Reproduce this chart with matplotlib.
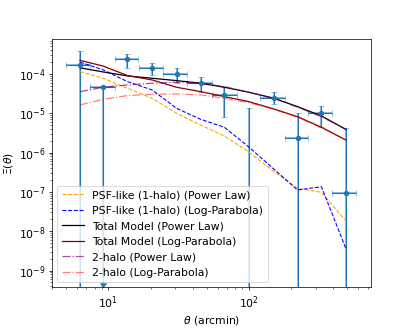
import matplotlib
matplotlib.use("Agg")
import matplotlib.pyplot as plt
import numpy as np

# ── data ──────────────────────────────────────────────────────────────────
theta = [6.3, 9.2, 13.7, 20.5, 30.6, 45.4, 67.1, 100.0, 150.7, 222.0, 328.6, 489.5]
theta_lo = [4.98, 7.41, 11.2, 16.5, 24.6, 36.4, 54.3, 100.0, 119.7, 180.0, 264.0, 393.0]
theta_hi = [7.41, 11.2, 16.3, 24.6, 36.4, 54.3, 81.8, 100.0, 180.2, 264.0, 393.0, 582.0]

xi = [1.69e-4, 4.75e-5, 2.37e-4, 1.40e-4, 1.00e-4, 5.8e-5, 2.93e-5, -1.0e-5,
      2.5e-5, 2.39e-6, 1.035e-5, 9.55e-8]
xi_up = [3.92e-4, 4.75e-5, 3.23e-4, 1.94e-4, 1.40e-4, 8.5e-5, 4.75e-5, 1.34e-5,
         3.55e-5, 1.0e-5, 1.53e-5, 4.3e-6]
xi_low = [-1e-4, 4.9e-10, 1.40e-4, 9.4e-5, 6.0e-5, 3.55e-5, 8.2e-6, -1e-4,
          1.73e-5, -1e-5, 4.4e-6, -1e-6]
upper_limit = [False, True, False, False, False, False, False, False,
               False, False, False, False]

# model curves, log10 values at theta
total_pl = [-3.845, -3.95, -4.051, -4.110, -4.170, -4.237, -4.339, -4.467, -4.619, -4.831, -5.069, -5.408]
total_lp = [-3.655, -3.80, -4.042, -4.153, -4.339, -4.450, -4.577, -4.704, -4.891, -5.086, -5.357, -5.679]
twoh_pl = [-4.450, -4.339, -4.280, -4.237, -4.212, -4.237, -4.322, -4.467, -4.619, -4.848, -5.086, -5.408]
twoh_lp = [-4.789, -4.645, -4.551, -4.517, -4.509, -4.534, -4.619, -4.729, -4.899, -5.103, -5.366, -5.679]
psf_pl = [-3.941, -4.110, -4.365, -4.619, -5.001, -5.298, -5.578, -5.985, -6.48, -6.908, -7.010, -7.733]
psf_lp = [-3.70, -3.898, -4.195, -4.407, -4.874, -5.154, -5.357, -5.858, -6.42, -6.952, -6.868, -8.435]

plt.rcParams["font.size"] = 12.2

fig = plt.figure(figsize=(6.4, 5.12), dpi=64.5)
ax = fig.add_axes([0.126, 0.129, 0.772, 0.751])

t = np.array(theta)
y = np.array(xi)
xerr = [t - np.array(theta_lo), np.array(theta_hi) - t]
yerr = [y - np.array(xi_low), np.array(xi_up) - y]

ax.errorbar(t, y, xerr=xerr, yerr=yerr, fmt="none", ecolor="C0",
            elinewidth=2.2, capsize=3.5, alpha=0.5)
ax.errorbar(t, y, xerr=xerr, yerr=yerr, uplims=upper_limit, fmt="o",
            color="C0", ms=5, elinewidth=1.2)

ax.plot(t, 10**np.array(psf_pl), "--", color="orange", lw=1.2, label="PSF-like (1-halo) (Power Law)")
ax.plot(t, 10**np.array(psf_lp), "--", color="blue", lw=1.2, label="PSF-like (1-halo) (Log-Parabola)")
ax.plot(t, 10**np.array(total_pl), "-", color="black", lw=1.4, label="Total Model (Power Law)")
ax.plot(t, 10**np.array(total_lp), "-", color="darkred", lw=1.4, label="Total Model (Log-Parabola)")
ax.plot(t, 10**np.array(twoh_pl), "-.", color="purple", alpha=0.7, lw=1.4, label="2-halo (Power Law)")
ax.plot(t, 10**np.array(twoh_lp), "-.", color="red", alpha=0.5, lw=1.4, label="2-halo (Log-Parabola)")

ax.set_xscale("log")
ax.set_yscale("log")
ax.set_xlim(3.98, 736)
ax.set_ylim(3.74e-10, 7.55e-4)
ax.set_xlabel(r"$\theta$ (arcmin)")
ax.set_ylabel(r"$\Xi(\theta)$")
ax.legend(loc="lower left")

fig.savefig("out.png", dpi=64.5)
